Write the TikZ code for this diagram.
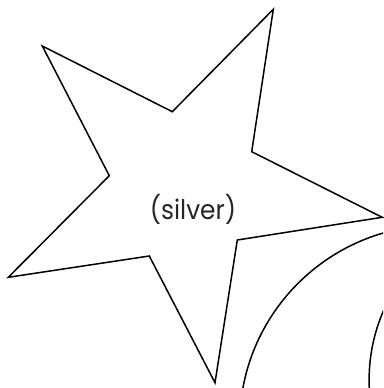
\documentclass[tikz,border=0pt]{standalone}
\usepackage{fontspec}
\setmainfont{Poppins}
\begin{document}
\begin{tikzpicture}[x=1pt,y=-1pt,
  outline/.style={draw=black,line width=1.5pt,line join=miter},
  label/.style={font=\fontsize{27}{30}\selectfont,text=black!85,inner sep=0pt,xscale=0.92}]
\useasboundingbox (0,0) rectangle (383,388);
% star corners
\coordinate (t1) at (273.3,9.3);
\coordinate (i1) at (172.3,111.7);
\coordinate (t2) at (42.3,46);
\coordinate (i2) at (109.3,175.7);
\coordinate (t3) at (8.3,277.3);
\coordinate (i3) at (149.3,256);
\coordinate (t4) at (215,382.7);
\coordinate (i4) at (237.3,240);
\coordinate (t5) at (382.2,217.3);
\coordinate (i5) at (251.7,151.7);
\draw[outline] (t1) -- (i1) -- (t2) -- (i2) -- (t3) -- (i3) -- (t4) -- (i4) -- (t5) -- (i5) -- cycle;
\node[label] (silver) at (193,209.5) {(silver)};
\begin{scope}
\clip (0,0) rectangle (383,388);
\coordinate (oc) at (438.6,424.2);
\coordinate (ic) at (543.3,380.1);
\draw[outline] (oc) circle[radius=199];
\draw[outline] (ic) circle[radius=174.2];
\end{scope}
\end{tikzpicture}
\end{document}
